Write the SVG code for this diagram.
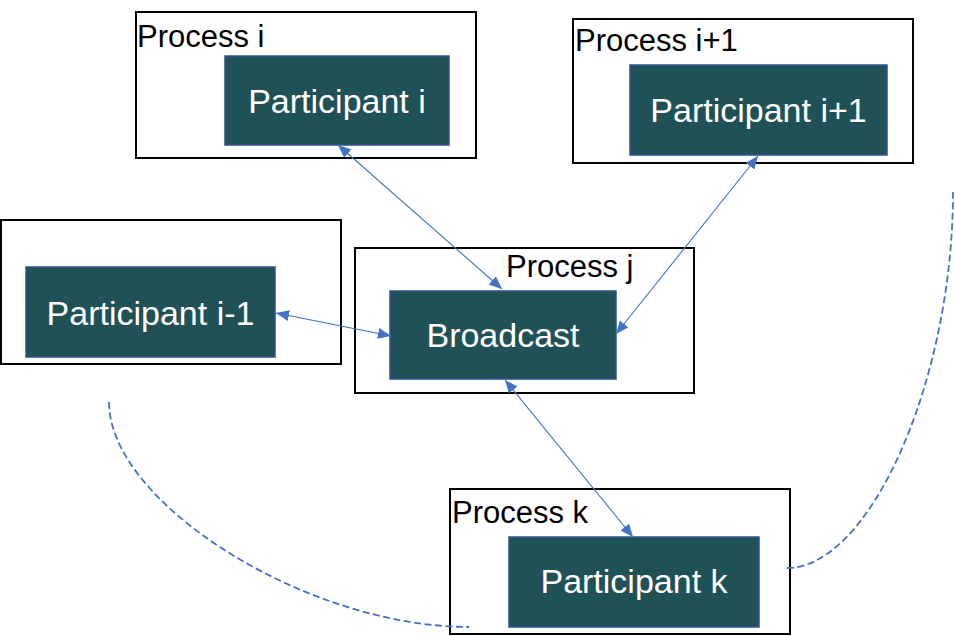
<svg xmlns="http://www.w3.org/2000/svg" width="955" height="636" viewBox="0 0 955 636">
  <style>
    .proc { fill: #ffffff; stroke: #000000; stroke-width: 2; }
    .part { fill: #1F5156; stroke: #2F528F; stroke-width: 1.5; }
    .plabel { font-family: "Liberation Sans", Arial, sans-serif; font-size: 31px; fill: #000000; }
    .ptext { font-family: "Liberation Sans", Arial, sans-serif; font-size: 34px; fill: #ffffff; text-anchor: middle; }
    .conn { stroke: #4472C4; stroke-width: 1.1; fill: none; marker-start: url(#arr); marker-end: url(#arr); }
    .dash { stroke: #4472C4; stroke-width: 1.8; fill: none; stroke-dasharray: 7 3.5; }
  </style>
  <defs>
    <marker id="arr" markerUnits="userSpaceOnUse" markerWidth="13" markerHeight="11" refX="13" refY="5.5" orient="auto-start-reverse" viewBox="0 0 13 11">
      <path d="M0,0 L13,5.5 L0,11 z" fill="#4472C4"/>
    </marker>
  </defs>
  <rect width="955" height="636" fill="#ffffff"/>

  <g id="process-i">
    <rect class="proc" x="136" y="12" width="340" height="146"/>
    <text class="plabel" x="137" y="47">Process i</text>
  </g>
  <g id="participant-i">
    <rect class="part" x="225" y="56" width="224" height="89"/>
    <text class="ptext" x="337" y="113">Participant i</text>
  </g>

  <g id="process-i1">
    <rect class="proc" x="573" y="19" width="340" height="144"/>
    <text class="plabel" x="575" y="51">Process i+1</text>
  </g>
  <g id="participant-i1">
    <rect class="part" x="630" y="65" width="257" height="90"/>
    <text class="ptext" x="758.5" y="122">Participant i+1</text>
  </g>

  <g id="process-im1">
    <rect class="proc" x="1" y="220" width="340" height="144"/>
  </g>
  <g id="participant-im1">
    <rect class="part" x="26" y="267" width="249" height="90"/>
    <text class="ptext" x="150.5" y="325">Participant i-1</text>
  </g>

  <g id="process-j">
    <rect class="proc" x="355" y="248" width="339" height="145"/>
    <text class="plabel" x="506" y="277">Process j</text>
  </g>
  <g id="broadcast">
    <rect class="part" x="390" y="291" width="226" height="88"/>
    <text class="ptext" x="503" y="347">Broadcast</text>
  </g>

  <g id="process-k">
    <rect class="proc" x="450" y="489" width="340" height="145"/>
    <text class="plabel" x="452" y="523">Process k</text>
  </g>
  <g id="participant-k">
    <rect class="part" x="509" y="537" width="250" height="90"/>
    <text class="ptext" x="634" y="593">Participant k</text>
  </g>

  <g id="connectors">
    <line class="conn" x1="338" y1="145" x2="502" y2="289"/>
    <line class="conn" x1="758" y1="156" x2="616" y2="334"/>
    <line class="conn" x1="276" y1="313" x2="391" y2="336"/>
    <line class="conn" x1="505" y1="380" x2="633" y2="537"/>
    <path class="dash" d="M109,402 C109,503 307,627 469,627"/>
    <path class="dash" d="M787,568 C870,568 953,380 953,192"/>
  </g>
</svg>
